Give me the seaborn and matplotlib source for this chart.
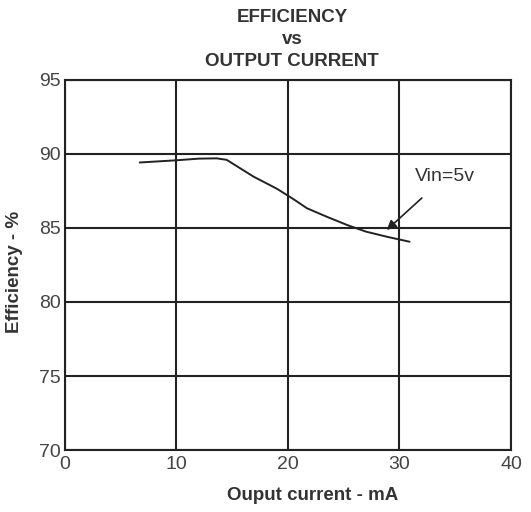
import numpy as np
import matplotlib
matplotlib.use("Agg")
import matplotlib.pyplot as plt
import seaborn as sns

# Curve (Vin = 5 V)
current_ma = [6.7, 10.0, 12.0, 13.6, 14.5, 16.9, 19.0, 20.5, 21.7, 23.5, 25.3, 27.0, 28.9, 30.9]
efficiency = [89.42, 89.57, 89.68, 89.70, 89.60, 88.47, 87.65, 86.94, 86.33, 85.75, 85.20, 84.75, 84.40, 84.07]

x_ticks = [0, 10, 20, 30, 40]
y_ticks = [70, 75, 80, 85, 90, 95]

sns.set_style("white")
plt.rcParams['font.family'] = ['Liberation Sans', 'DejaVu Sans']

fig = plt.figure(figsize=(5.31, 5.12), dpi=100)
ax = fig.add_axes([0.1224, 0.121, 0.8399, 0.723])

sns.lineplot(x=current_ma, y=efficiency, ax=ax, color='#222222', linewidth=1.4)

ax.set_xlim(0, 40)
ax.set_ylim(70, 95)
ax.set_xticks(x_ticks)
ax.set_yticks(y_ticks)
ax.grid(True, color='#222222', linewidth=1.5)
for s in ax.spines.values():
    s.set_color('#222222')
    s.set_linewidth(1.5)
ax.tick_params(axis='both', length=2, width=1, color='#444444', direction='out',
               labelsize=14, labelcolor='#444444')
ax.tick_params(axis='x', length=0, pad=4)
ax.tick_params(axis='y', pad=1)

ax.set_xlabel('Ouput current - mA', fontsize=13.5, fontweight='bold', color='#333333')
ax.set_ylabel('Efficiency - %', fontsize=13.5, fontweight='bold', color='#333333')
ax.xaxis.set_label_coords(0.555, -0.1)
ax.yaxis.set_label_coords(-0.094, 0.48)

for txt, y in [('EFFICIENCY', 0.966), ('vs', 0.923), ('OUTPUT CURRENT', 0.879)]:
    fig.text(0.55, y, txt, ha='center', va='center', fontsize=13.5,
             fontweight='bold', color='#333333')

ax.annotate('Vin=5v', xy=(28.85, 84.86), xytext=(31.4, 88.45),
            fontsize=14, color='#333333', va='center', ha='left',
            arrowprops=dict(arrowstyle='-|>', color='#222222', lw=1.2,
                            shrinkA=10, shrinkB=0))

fig.savefig('out.png', dpi=100)
